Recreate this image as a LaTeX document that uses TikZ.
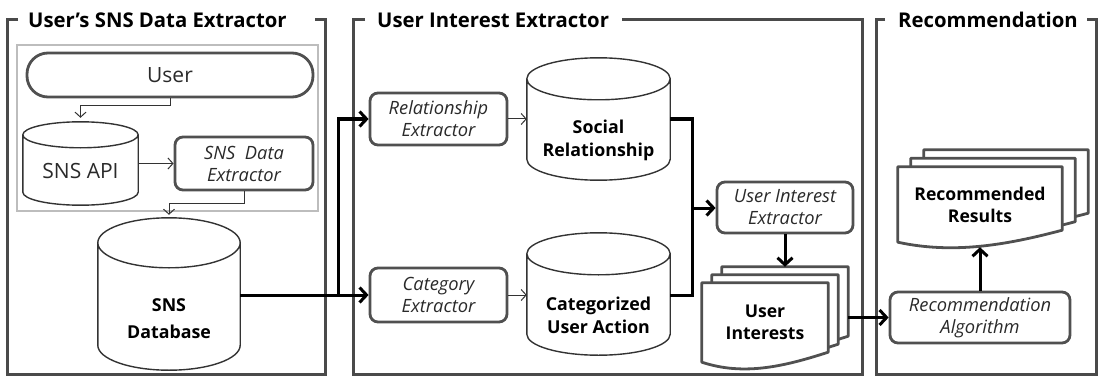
\documentclass[tikz,border=0pt]{standalone}
\usepackage{fontspec}
\setmainfont{Open Sans}
\usetikzlibrary{calc,arrows.meta}
\pgfdeclarelayer{bg}
\pgfsetlayers{bg,main}
\definecolor{framegray}{HTML}{4A4A4A}
\definecolor{boxgray}{HTML}{505050}
\definecolor{cylgray}{HTML}{333333}
\definecolor{txtgray}{HTML}{2A2A2A}
\definecolor{innergray}{HTML}{BDBDBD}
\tikzset{
  frame/.style={draw=framegray, line width=3pt},
  ttl/.style={font=\fontsize{20.3}{22}\selectfont\bfseries, inner sep=0pt, anchor=west, text=black},
  proc/.style={draw=boxgray, line width=2.8pt, rounded corners=8pt, fill=white, align=center,
    font=\fontsize{18.3}{22}\selectfont\itshape, inner sep=0pt, text=txtgray},
  term/.style={draw=boxgray, line width=2.8pt, rounded corners=21pt, fill=white,
    font=\fontsize{21}{22}\selectfont, inner sep=0pt, text=txtgray},
  cylbox/.style={inner sep=0pt, align=center, font=\fontsize{17.8}{23}\selectfont\bfseries, text=black},
  cylline/.style={draw=cylgray, line width=1.4pt, fill=white},
  pagebox/.style={inner sep=0pt, align=center, font=\fontsize{17.6}{22}\selectfont\bfseries, text=black},
  docline/.style={draw=boxgray, line width=2.8pt, fill=white, line join=round},
  thinarr/.style={draw=cylgray, line width=1pt, -{Straight Barb[length=5pt,width=11pt]}},
  thickline/.style={draw=black, line width=3pt},
  thickarr/.style={draw=black, line width=3pt, -{Straight Barb[length=7pt,width=15pt]}},
  innerbox/.style={draw=innergray, line width=2pt}
}
\newcommand\cyl[2]{%
  \begin{pgfonlayer}{bg}
  \draw[cylline] let \p1=(#1.north west), \p2=(#1.south east), \n1={(\x2-\x1)/2} in
    (\x1,\y1+#2pt) -- (\x1,\y2+#2pt)
    arc[start angle=180,end angle=360,x radius=\n1,y radius=#2pt]
    -- (\x2,\y1+#2pt)
    arc[start angle=0,end angle=180,x radius=\n1,y radius=#2pt]
    arc[start angle=180,end angle=360,x radius=\n1,y radius=#2pt];
  \end{pgfonlayer}
  \coordinate (#1-top) at ($(#1.north)+(0,2*#2)$);
}
\newcommand\docsh[4]{%
  \begin{pgfonlayer}{bg}
  \draw[docline] (#1.south west) -- (#1.north west) -- (#1.north east)
    -- ($(#1.south east)+(0,#2)$)
    .. controls ($(#1.south west)!0.656!(#1.south east)+(0,-#3)$)
    and ($(#1.south west)!0.336!(#1.south east)+(0,-#4)$) .. (#1.south west) -- cycle;
  \end{pgfonlayer}
}
\begin{document}
\begin{tikzpicture}[x=1pt,y=1pt]
\useasboundingbox (0,0) rectangle (1099,-377);
% ---------- panel frames ----------
\draw[frame] (18,-20) -- (7,-20) -- (7,-374) -- (325,-374) -- (325,-20) -- (315,-20);
\node[ttl] (t1) at (28,-20) {User’s SNS Data Extractor};
\draw[frame] (365,-20) -- (353,-20) -- (353,-374) -- (862,-374) -- (862,-20) -- (622,-20);
\node[ttl] (t2) at (377,-20) {User Interest Extractor};
\draw[frame] (885,-20) -- (876,-20) -- (876,-374) -- (1096,-374) -- (1096,-20) -- (1087,-20);
\node[ttl] (t3) at (898,-20) {Recommendation};
% ---------- panel 1 ----------
\begin{pgfonlayer}{bg}
\draw[innerbox] (17,-45) rectangle (318,-211);
\end{pgfonlayer}
\node[term, minimum width=286pt, minimum height=44pt] (user) at (170,-75) {User};
\node[cylbox, font=\fontsize{21}{22}\selectfont, text=txtgray, text depth=12pt, minimum width=115pt, minimum height=57pt] (api) at (80.5,-176.5) {SNS API};
\cyl{api}{13}
\node[proc, minimum width=138pt, minimum height=53pt] (sde) at (244,-163.5) {SNS~~Data\\Extractor};
\node[cylbox, minimum width=142pt, minimum height=102pt, font=\fontsize{17.8}{27}\selectfont\bfseries] (db) at (169,-319) {SNS\\Database};
\cyl{db}{25}
% ---------- panel 2 ----------
\node[proc, minimum width=137pt, minimum height=52pt] (rex) at (438.5,-119) {Relationship\\Extractor};
\node[proc, minimum width=137pt, minimum height=54pt] (cex) at (438.5,-295) {Category\\Extractor};
\node[cylbox, minimum width=143pt, minimum height=80pt] (sr) at (598.5,-140) {Social\\Relationship};
\cyl{sr}{21}
\node[cylbox, minimum width=143pt, minimum height=80pt] (cua) at (598.5,-315) {Categorized\\User Action};
\cyl{cua}{21}
\node[proc, minimum width=136pt, minimum height=51pt] (uie) at (785,-207.5) {User Interest\\Extractor};
\node[pagebox, minimum width=126pt, minimum height=79pt] (ui3) at (785,-306.5) {};
\node[pagebox, minimum width=126pt, minimum height=79pt] (ui2) at (775,-314.5) {};
\node[pagebox, minimum width=126pt, minimum height=79pt] (ui) at (765,-322.5) {User\\Interests};
\docsh{ui3}{10}{4}{14}
\docsh{ui2}{10}{4}{14}
\docsh{ui}{10}{4}{14}
% ---------- panel 3 ----------
\node[proc, minimum width=180pt, minimum height=51pt] (ra) at (980,-317.5) {Recommendation\\Algorithm};
\node[pagebox, minimum width=164pt, minimum height=75pt] (rr3) at (1006,-187.5) {};
\node[pagebox, minimum width=164pt, minimum height=75pt] (rr2) at (993,-196) {};
\node[pagebox, minimum width=164pt, minimum height=75pt] (rr) at (980,-204.5) {Recommended\\Results};
\docsh{rr3}{12}{3}{12}
\docsh{rr2}{12}{3}{12}
\docsh{rr}{12}{3}{12}
% ---------- connectors ----------
\draw[thinarr] (user.south) -- ++(0,-7) -| ($(api-top)+(0,4)$);
\draw[thinarr] (api.east |- sde.west) -- (sde.west);
\draw[thinarr] (sde.south) -- ++(0,-12) -| ($(db-top)+(0,3)$);
\draw[thinarr] (rex.east) -- (rex.east -| sr.west);
\draw[thinarr] (cex.east) -- (cex.east -| cua.west);
\coordinate (split) at (338,-295);
\draw[thickarr] (db.east |- cex.west) -- (cex.west);
\draw[thickarr] (split) |- (rex.west);
\coordinate (merge) at (692,-208);
\draw[thickline, line join=miter] (sr.east |- rex.east) -| (merge) |- (cua.east |- cex.east);
\draw[thickarr] (merge) -- (merge -| uie.west);
\draw[thickarr] (uie.south) -- (uie.south |- ui3.north);
\draw[thickarr] (ui3.east |- ra.west) -- (ra.west);
\draw[thickarr] (ra.north) -- ([yshift=-5pt]rr.south);
\end{tikzpicture}
\end{document}
